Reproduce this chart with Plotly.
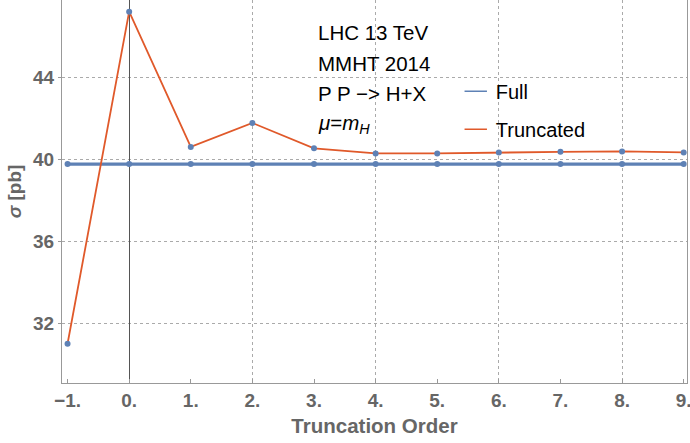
import plotly.graph_objects as go

orders = [-1, 0, 1, 2, 3, 4, 5, 6, 7, 8, 9]
full_vals = [39.78] * 11
trunc_vals = [31.0, 47.23, 40.62, 41.79, 40.55, 40.30, 40.30, 40.35, 40.38, 40.40, 40.35]
x_tick_vals = [-1, 0, 1, 2, 3, 4, 5, 6, 7, 8, 9]
x_tick_text = ["−1.", "0.", "1.", "2.", "3.", "4.", "5.", "6.", "7.", "8.", "9."]
y_tick_vals = [32, 36, 40, 44]
info_lines = ["LHC 13 TeV", "MMHT 2014", "P P −> H+X", "<i>μ</i>=<i>m<sub>H</sub></i>"]
info_y = [46.19, 44.72, 43.25, 41.73]

BLUE = "#5E81B5"
ORANGE = "#E0592A"
GRAY = "#666666"
FONT = "Liberation Sans, Arial, sans-serif"

fig = go.Figure()
fig.add_trace(go.Scatter(x=orders, y=full_vals, mode="lines+markers",
                         line=dict(color=BLUE, width=3.2),
                         marker=dict(color=BLUE, size=6), showlegend=False))
fig.add_trace(go.Scatter(x=orders, y=trunc_vals, mode="lines+markers",
                         line=dict(color=ORANGE, width=1.8),
                         marker=dict(color=BLUE, size=6), showlegend=False))
# legend entries
fig.add_trace(go.Scatter(x=[None], y=[None], mode="markers", name="Full",
                         legendgroup="a",
                         marker=dict(symbol="line-ew", size=16,
                                     line=dict(color=BLUE, width=1.5))))
fig.add_trace(go.Scatter(x=[None], y=[None], mode="markers", name="Truncated",
                         legendgroup="b",
                         marker=dict(symbol="line-ew", size=16,
                                     line=dict(color=ORANGE, width=1.5))))

for txt, yy in zip(info_lines, info_y):
    fig.add_annotation(x=3.04, y=yy, xref="x", yref="y", text=txt,
                       showarrow=False, xanchor="left", yanchor="middle",
                       font=dict(family=FONT, size=20.5, color="black"))

fig.update_layout(
    width=690, height=443,
    margin=dict(l=62, r=3, t=0, b=60),
    plot_bgcolor="white", paper_bgcolor="white",
    font=dict(family=FONT, size=20, color=GRAY),
    legend=dict(x=0.63, y=0.712, xanchor="left", yanchor="middle",
                bgcolor="rgba(0,0,0,0)", itemwidth=30, tracegroupgap=9,
                font=dict(family=FONT, size=20, color="black")),
    xaxis=dict(range=[-1.09, 9.054], tickmode="array", tickvals=x_tick_vals,
               ticktext=x_tick_text, showgrid=False, automargin=False,
               ticklabeloverflow="allow",
               zeroline=True, zerolinecolor="#555555", zerolinewidth=1,
               showline=True, linecolor="#999999", linewidth=1.2, mirror=False,
               ticks="inside", ticklen=4, tickcolor="#999999",
               tickfont=dict(family=FONT, size=19, color=GRAY, weight="bold"),
               title=dict(text="Truncation Order", standoff=8,
                          font=dict(family=FONT, size=20.5, color=GRAY, weight="bold")),
               minor=dict(tickmode="array", tickvals=[2, 4, 6, 8], showgrid=True,
                          gridcolor="#AAAAAA", griddash="3px,3px", gridwidth=1,
                          ticks="")),
    yaxis=dict(range=[29.08, 47.8], tickmode="array", tickvals=y_tick_vals,
               showgrid=True, gridcolor="#AAAAAA", griddash="3px,3px", gridwidth=1,
               zeroline=False, automargin=False,
               showline=True, linecolor="#999999", linewidth=1.2, mirror=True,
               ticks="outside", ticklen=3, tickcolor="#999999",
               tickfont=dict(family=FONT, size=19, color=GRAY, weight="bold"),
               title=dict(text="<i>σ</i> [pb]", standoff=6,
                          font=dict(family=FONT, size=19, color=GRAY, weight="bold"))),
)

fig.write_html("out.html", config={"displayModeBar": False},
               post_script="document.body.style.margin='0';document.body.style.overflow='hidden';")
